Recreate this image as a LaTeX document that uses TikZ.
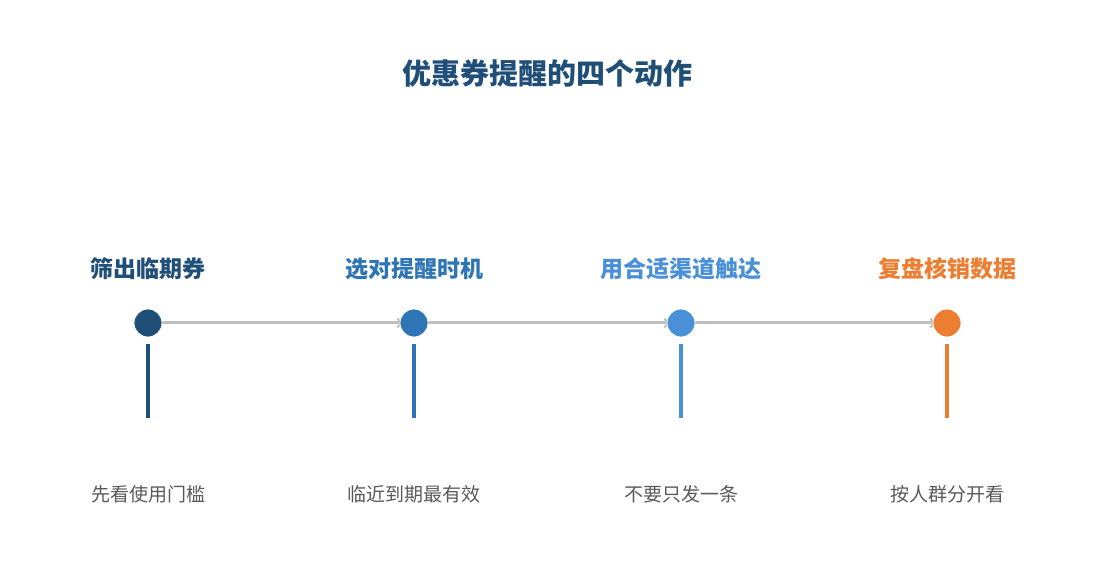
\documentclass[tikz,border=0pt]{standalone}
\usepackage{fontspec}
\setmainfont{Noto Sans CJK SC}
\usetikzlibrary{arrows.meta,backgrounds}
\definecolor{cA}{HTML}{1F4E79}
\definecolor{cB}{HTML}{2E75B6}
\definecolor{cC}{HTML}{4A90D9}
\definecolor{cD}{HTML}{ED7D31}
\definecolor{lineg}{HTML}{BFBFBF}
\definecolor{txtg}{HTML}{595959}
\begin{document}
\begin{tikzpicture}[x=1pt,y=-1pt,
  dot/.style={circle,minimum size=28pt,inner sep=0pt,draw=white,line width=0.8pt},
  head/.style={font=\fontsize{23}{27}\selectfont\bfseries,anchor=center},
  sub/.style={font=\fontsize{19}{22}\selectfont,text=txtg,anchor=center},
  link/.style={lineg,line width=3pt,shorten >=-3pt,-{Straight Barb[length=4pt,width=9pt,line width=2pt]}},
  bar/.style={line width=4pt}]
\useasboundingbox (0,0) rectangle (1095,585);
\node[font=\fontsize{29}{33}\selectfont\bfseries,text=cA] (title) at (547,73) {优惠券提醒的四个动作};
\foreach \n/\x/\c/\h/\s in {a/148/cA/筛出临期券/先看使用门槛, b/414/cB/选对提醒时机/临近到期最有效, c/681/cC/用合适渠道触达/不要只发一条, d/947/cD/复盘核销数据/按人群分开看}{
  \node[head,text=\c] (h\n) at (\x,269) {\h};
  \node[sub] (s\n) at (\x,494) {\s};
  \coordinate (t\n) at (\x,344);
  \coordinate (u\n) at (\x,418);
  \draw[bar,\c] (t\n) -- (u\n);
}
\node[dot,fill=cA] (a) at (148,323) {};
\node[dot,fill=cB] (b) at (414,323) {};
\node[dot,fill=cC] (c) at (681,323) {};
\node[dot,fill=cD] (d) at (947,323) {};
\begin{scope}[on background layer]
\draw[link] (a.east) -- (b.west);
\draw[link] (b.east) -- (c.west);
\draw[link] (c.east) -- (d.west);
\end{scope}
\end{tikzpicture}
\end{document}
